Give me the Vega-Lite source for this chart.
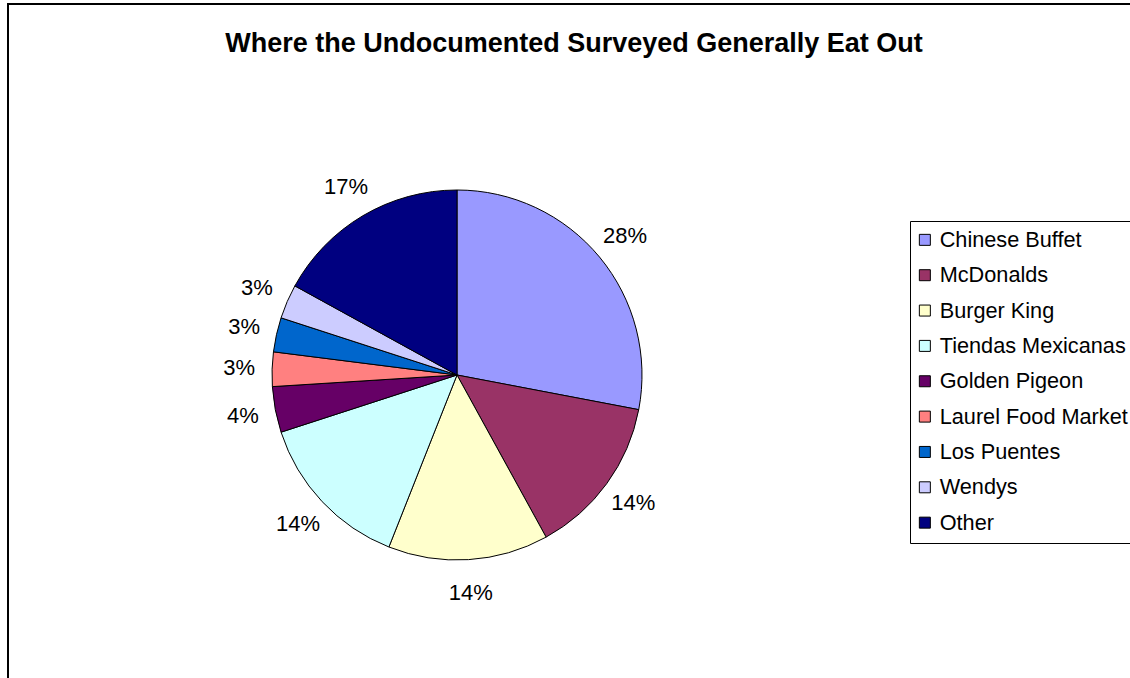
{
  "$schema": "https://vega.github.io/schema/vega-lite/v6.json",
  "width": 1130,
  "height": 678,
  "autosize": {"type": "fit", "contains": "padding"},
  "padding": {"left": 8, "top": 4, "right": -10, "bottom": -10},
  "background": "white",
  "view": {"stroke": "black", "strokeWidth": 2, "fill": "white"},
  "title": {
    "text": "Where the Undocumented Surveyed Generally Eat Out",
    "font": "Liberation Sans",
    "fontSize": 27,
    "fontWeight": "bold",
    "color": "black",
    "anchor": "middle",
    "offset": -54
  },
  "data": {
    "values": [
      {"idx": 1, "place": "Chinese Buffet", "share": 0.28},
      {"idx": 2, "place": "McDonalds", "share": 0.14},
      {"idx": 3, "place": "Burger King", "share": 0.14},
      {"idx": 4, "place": "Tiendas Mexicanas", "share": 0.14},
      {"idx": 5, "place": "Golden Pigeon", "share": 0.04},
      {"idx": 6, "place": "Laurel Food Market", "share": 0.03},
      {"idx": 7, "place": "Los Puentes", "share": 0.03},
      {"idx": 8, "place": "Wendys", "share": 0.03},
      {"idx": 9, "place": "Other", "share": 0.17}
    ]
  },
  "encoding": {
    "theta": {"field": "share", "type": "quantitative", "stack": true},
    "order": {"field": "idx", "type": "quantitative"},
    "color": {
      "field": "place",
      "type": "nominal",
      "scale": {
        "domain": ["Chinese Buffet", "McDonalds", "Burger King", "Tiendas Mexicanas", "Golden Pigeon", "Laurel Food Market", "Los Puentes", "Wendys", "Other"],
        "range": ["#9999FF", "#993366", "#FFFFCC", "#CCFFFF", "#660066", "#FF8080", "#0066CC", "#CCCCFF", "#000080"]
      },
      "legend": {
        "orient": "none",
        "legendX": 902,
        "legendY": 217,
        "title": null,
        "symbolType": "square",
        "symbolSize": 121,
        "symbolStrokeColor": "black",
        "symbolStrokeWidth": 1,
        "symbolOpacity": 1,
        "symbolOffset": -4,
        "labelFont": "Liberation Sans",
        "labelFontSize": 21.7,
        "labelColor": "black",
        "rowPadding": 12.35,
        "labelOffset": 4,
        "labelLimit": 400,
        "strokeColor": "black",
        "fillColor": "white",
        "padding": 8
      }
    }
  },
  "layer": [
    {
      "mark": {"type": "arc", "outerRadius": 185, "stroke": "black", "strokeWidth": 1, "x": 449, "y": 371}
    },
    {
      "mark": {"type": "text", "radius": 218, "x": 449, "y": 371, "font": "Liberation Sans", "fontSize": 22},
      "encoding": {
        "text": {"field": "share", "type": "quantitative", "format": ".0%"},
        "color": {"value": "black"}
      }
    }
  ]
}
